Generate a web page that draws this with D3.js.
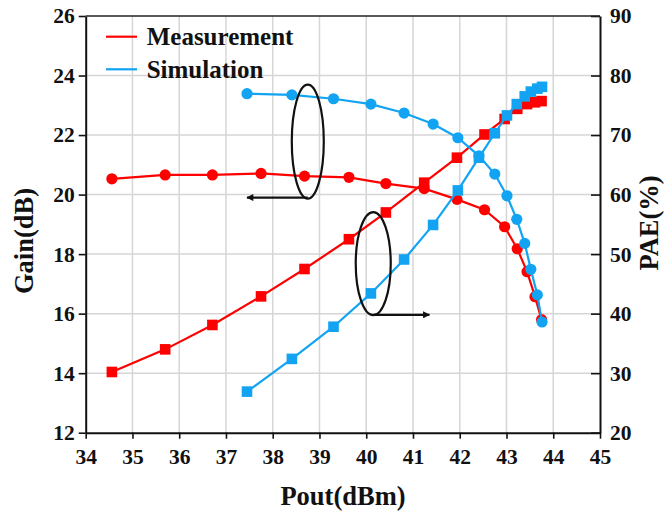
<!DOCTYPE html>
<html lang="en">
<head>
    <meta charset="UTF-8">
    <title>Gain / PAE</title>
    <style>
        body{ margin:0; background:#fff; }
        text{ font-family:"Liberation Serif","Times New Roman",serif; font-weight:bold; fill:#111; }
    </style>
</head>
<body>
    <script src="https://cdn.jsdelivr.net/npm/d3@7"></script>
    <script>
        const w = 664;
        const h = 516;

        // données
        const measPout = [34.56, 35.70, 36.71, 37.75, 38.68, 39.63, 40.42, 41.24, 41.94, 42.53, 42.96, 43.23, 43.44, 43.61, 43.75];
        const measGain = [20.53, 20.66, 20.66, 20.71, 20.62, 20.58, 20.37, 20.20, 19.84, 19.49, 18.92, 18.18, 17.41, 16.57, 15.80];
        const measPae  = [30.2, 34.0, 38.1, 42.9, 47.5, 52.5, 57.0, 62.0, 66.2, 70.1, 72.7, 74.4, 75.2, 75.5, 75.7];

        const simPout = [37.45, 38.41, 39.30, 40.10, 40.81, 41.43, 41.96, 42.41, 42.75, 43.01, 43.22, 43.39, 43.52, 43.66, 43.76];
        const simGain = [23.39, 23.35, 23.22, 23.04, 22.74, 22.37, 21.91, 21.30, 20.69, 19.96, 19.17, 18.36, 17.49, 16.63, 15.72];
        const simPae  = [26.9, 32.4, 37.8, 43.4, 49.1, 54.9, 60.7, 66.2, 70.3, 73.3, 75.2, 76.5, 77.3, 77.8, 78.1];

        const xTicks = [34, 35, 36, 37, 38, 39, 40, 41, 42, 43, 44, 45];
        const gainTicks = [12, 14, 16, 18, 20, 22, 24, 26];
        const paeTicks = [20, 30, 40, 50, 60, 70, 80, 90];
        const seriesNames = ["Measurement", "Simulation"];

        const rouge = "#ff0000";
        const bleu = "#12a4f2";

        const m = {left: 85.7, right: 600, top: 16, bottom: 432.7};

        const svg = d3.select("body")
            .append("svg")
            .attr("width", w)
            .attr("height", h);

        const x = d3.scaleLinear().domain([34, 45]).range([m.left, m.right]);
        const yG = d3.scaleLinear().domain([12, 26]).range([m.bottom, m.top]);
        const yP = d3.scaleLinear().domain([20, 90]).range([m.bottom, m.top]);

        // grille
        svg.append("g")
            .selectAll("line")
            .data(xTicks.slice(1, -1))
            .join("line")
                .attr("x1", d => x(d)).attr("x2", d => x(d))
                .attr("y1", m.top).attr("y2", m.bottom)
                .attr("stroke", "#d6d6d6").attr("stroke-width", 1.5);
        svg.append("g")
            .selectAll("line")
            .data(gainTicks.slice(1, -1))
            .join("line")
                .attr("x1", m.left).attr("x2", m.right)
                .attr("y1", d => yG(d)).attr("y2", d => yG(d))
                .attr("stroke", "#d6d6d6").attr("stroke-width", 1.5);

        // axes
        const axX = svg.append("g")
            .attr("transform", `translate(0, ${m.bottom})`)
            .call(d3.axisBottom(x).tickValues(xTicks).tickSize(6).tickSizeOuter(0).tickPadding(10));
        const axG = svg.append("g")
            .attr("transform", `translate(${m.left}, 0)`)
            .call(d3.axisLeft(yG).tickValues(gainTicks).tickSize(7).tickSizeOuter(0).tickPadding(4));
        const axP = svg.append("g")
            .attr("transform", `translate(${m.right}, 0)`)
            .call(d3.axisRight(yP).tickValues(paeTicks).tickSize(-9).tickSizeOuter(0).tickPadding(10));

        [axX, axG, axP].forEach(a => {
            a.select(".domain").attr("stroke", "#111").attr("stroke-width", 2);
            a.selectAll(".tick line").attr("stroke", "#111").attr("stroke-width", 1.6);
            a.selectAll(".tick text").style("font-size", "21.5px").attr("fill", "#111");
        });

        // bord supérieur
        svg.append("line")
            .attr("x1", m.left).attr("x2", m.right)
            .attr("y1", m.top).attr("y2", m.top)
            .attr("stroke", "#222").attr("stroke-width", 1.5);

        // titres des axes
        svg.append("text")
            .attr("x", 343).attr("y", 505)
            .attr("text-anchor", "middle")
            .style("font-size", "26.5px")
            .text("Pout(dBm)");
        svg.append("text")
            .attr("transform", "translate(33, 241) rotate(-90)")
            .attr("text-anchor", "middle")
            .style("font-size", "26.5px")
            .text("Gain(dB)");
        svg.append("text")
            .attr("transform", "translate(658, 223) rotate(-90)")
            .attr("text-anchor", "middle")
            .style("font-size", "26.5px")
            .text("PAE(%)");

        // courbes
        function trace(px, py, yScale, couleur, forme){
            const pts = px.map((v, i) => [x(v), yScale(py[i])]);
            svg.append("path")
                .attr("d", d3.line()(pts))
                .attr("fill", "none")
                .attr("stroke", couleur)
                .attr("stroke-width", 2.2);
            if (forme === "rond") {
                svg.append("g").selectAll("circle")
                    .data(pts).join("circle")
                    .attr("cx", d => d[0]).attr("cy", d => d[1])
                    .attr("r", 5.6).attr("fill", couleur);
            } else {
                svg.append("g").selectAll("rect")
                    .data(pts).join("rect")
                    .attr("x", d => d[0] - 5.3).attr("y", d => d[1] - 5.3)
                    .attr("width", 10.6).attr("height", 10.6).attr("fill", couleur);
            }
        }

        trace(measPout, measPae, yP, rouge, "carre");
        trace(measPout, measGain, yG, rouge, "rond");
        trace(simPout, simPae, yP, bleu, "carre");
        trace(simPout, simGain, yG, bleu, "rond");

        // annotations : ellipses et flèches
        svg.append("defs").append("marker")
            .attr("id", "fleche")
            .attr("viewBox", "0 0 10 10")
            .attr("refX", 9).attr("refY", 5)
            .attr("markerWidth", 11).attr("markerHeight", 7)
            .attr("markerUnits", "userSpaceOnUse")
            .attr("orient", "auto")
            .append("path").attr("d", "M0,0 L10,5 L0,10 Z").attr("fill", "#111");

        svg.append("ellipse")
            .attr("cx", x(38.75)).attr("cy", yG(21.78))
            .attr("rx", 16).attr("ry", 57)
            .attr("fill", "none").attr("stroke", "#111").attr("stroke-width", 2.2);
        svg.append("line")
            .attr("x1", x(38.75)).attr("y1", yG(19.9))
            .attr("x2", x(37.45)).attr("y2", yG(19.9))
            .attr("stroke", "#111").attr("stroke-width", 2.2)
            .attr("marker-end", "url(#fleche)");

        svg.append("ellipse")
            .attr("cx", x(40.15)).attr("cy", yP(48.4))
            .attr("rx", 17.5).attr("ry", 51.5)
            .attr("fill", "none").attr("stroke", "#111").attr("stroke-width", 2.2);
        svg.append("line")
            .attr("x1", x(40.15)).attr("y1", yP(39.8))
            .attr("x2", x(41.35)).attr("y2", yP(39.8))
            .attr("stroke", "#111").attr("stroke-width", 2.2)
            .attr("marker-end", "url(#fleche)");

        // légende
        const leg = svg.append("g");
        const legCouleurs = [rouge, bleu];
        const legY = [36.7, 69.3];
        seriesNames.forEach((nom, i) => {
            leg.append("line")
                .attr("x1", 106).attr("x2", 137)
                .attr("y1", legY[i]).attr("y2", legY[i])
                .attr("stroke", legCouleurs[i]).attr("stroke-width", 2.2);
            leg.append("text")
                .attr("x", 146.7).attr("y", legY[i] + 8.3)
                .style("font-size", "25px")
                .text(nom);
        });
    </script>
</body>
</html>
